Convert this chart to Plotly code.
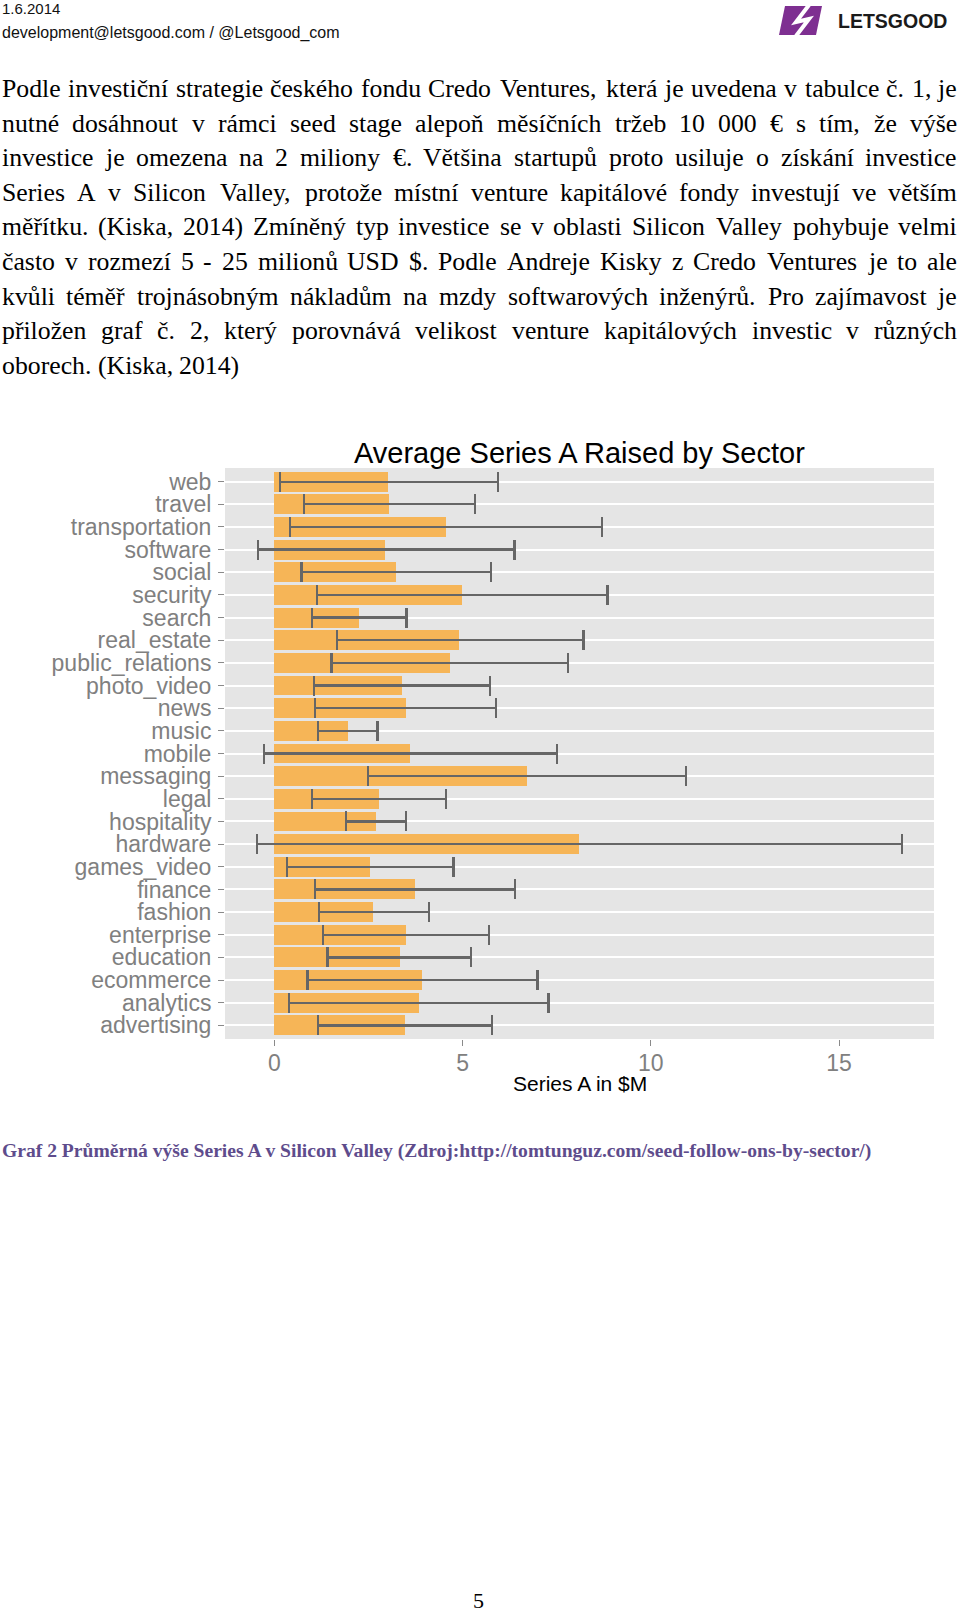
import unicodedata
import plotly.graph_objects as go

# ---------------- data (top to bottom as displayed) ----------------
sectors = ["web", "travel", "transportation", "software", "social", "security",
           "search", "real_estate", "public_relations", "photo_video", "news",
           "music", "mobile", "messaging", "legal", "hospitality", "hardware",
           "games_video", "finance", "fashion", "enterprise", "education",
           "ecommerce", "analytics", "advertising"]
mean_raise = [3.02, 3.04, 4.56, 2.95, 3.23, 4.99, 2.24, 4.91, 4.66, 3.38, 3.49,
              1.95, 3.61, 6.70, 2.77, 2.70, 8.10, 2.54, 3.73, 2.63, 3.50, 3.33,
              3.93, 3.83, 3.48]
err_low = [0.16, 0.78, 0.41, -0.44, 0.72, 1.13, 0.99, 1.66, 1.52, 1.05, 1.07,
           1.16, -0.27, 2.48, 1.00, 1.91, -0.46, 0.34, 1.07, 1.18, 1.29, 1.41,
           0.88, 0.39, 1.16]
err_high = [5.93, 5.32, 8.71, 6.38, 5.76, 8.85, 3.51, 8.21, 7.80, 5.72, 5.89,
            2.74, 7.51, 10.93, 4.55, 3.50, 16.68, 4.76, 6.40, 4.11, 5.70, 5.23,
            6.99, 7.28, 5.78]
x_ticks = [0, 5, 10, 15]

chart_title = "Average Series A Raised by Sector"
x_title = "Series A in $M"

header_date = "1.6.2014"
header_contact = "development@letsgood.com / @Letsgood_com"
logo_text = "LETSGOOD"

body_lines = [
    "Podle investiční strategie českého fondu Credo Ventures, která je uvedena v tabulce č. 1, je",
    "nutné dosáhnout v rámci seed stage alepoň měsíčních tržeb 10 000 € s tím, že výše",
    "investice je omezena na 2 miliony €. Většina startupů proto usiluje o získání investice",
    "Series A v Silicon Valley, protože místní venture kapitálové fondy investují ve větším",
    "měřítku. (Kiska, 2014) Zmíněný typ investice se v oblasti Silicon Valley pohybuje velmi",
    "často v rozmezí 5 - 25 milionů USD $. Podle Andreje Kisky z Credo Ventures je to ale",
    "kvůli téměř trojnásobným nákladům na mzdy softwarových inženýrů. Pro zajímavost je",
    "přiložen graf č. 2, který porovnává velikost venture kapitálových investic v různých",
    "oborech. (Kiska, 2014)",
]
caption = "Graf 2 Průměrná výše Series A v Silicon Valley (Zdroj:http://tomtunguz.com/seed-follow-ons-by-sector/)"
page_number = "5"

# ---------------- layout geometry ----------------
W, H = 960, 1614
PL, PR, PT, PB = 225, 934, 468, 1039


def fx(px):
    return (px - PL) / (PR - PL)


def fy(py):
    return (PB - py) / (PB - PT)


# Times-Roman advance widths (per 1000 em) for justification
TW = dict(a=444, b=500, c=444, d=500, e=444, f=333, g=500, h=500, i=278, j=278,
          k=500, l=278, m=778, n=500, o=500, p=500, q=500, r=333, s=389, t=278,
          u=500, v=500, w=722, x=500, y=500, z=444,
          A=722, B=667, C=667, D=722, E=611, F=556, G=722, H=722, I=333, J=389,
          K=722, L=611, M=889, N=722, O=722, P=556, Q=722, R=667, S=556, T=611,
          U=722, V=722, W=944, X=722, Y=722, Z=611)
TW.update({str(d): 500 for d in range(10)})
TW.update({" ": 250, ".": 250, ",": 250, "(": 333, ")": 333, "-": 333,
           "€": 500, "$": 500, ":": 278, "/": 278, "_": 500})


def units(s):
    tot = 0
    for ch in s:
        if ch in TW:
            tot += TW[ch]
        else:
            base = unicodedata.normalize("NFD", ch)[0]
            tot += TW.get(base, 500)
    return tot


annotations = []
SERIF = "Liberation Serif, Times New Roman, serif"
SANS = "Liberation Sans, Arial, sans-serif"


def add_text(text, px, py, size, color="black", family=SANS, xanchor="center",
             bold=False):
    annotations.append(dict(
        text=("<b>%s</b>" % text) if bold else text,
        x=fx(px), y=fy(py), xref="paper", yref="paper",
        xanchor=xanchor, yanchor="middle", showarrow=False,
        borderpad=0, borderwidth=0,
        font=dict(family=family, size=size, color=color)))


# header
add_text(header_date, 2, 9, 15, "#111111", SANS, "left")
add_text(header_contact, 2, 33, 16, "#111111", SANS, "left")
add_text(logo_text, 947, 21, 19.5, "#1a1a1a", SANS, "right", bold=True)

# body text (justified: first word left-anchored, last word right-anchored)
L_EDGE, R_EDGE = 2, 957
body_size = 0.985 * (R_EDGE - L_EDGE) * 1000.0 / units(body_lines[0])
for i, line in enumerate(body_lines):
    yy = 88.5 + 34.6 * i
    words = line.split(" ")
    ww = [units(w) * body_size / 1000.0 for w in words]
    last_line = i == len(body_lines) - 1
    if not last_line:
        gap = (R_EDGE - L_EDGE - sum(ww)) / (len(words) - 1)
    else:
        gap = 250 * body_size / 1000.0
    xx = L_EDGE
    n = len(words)
    for k, (w, wdt) in enumerate(zip(words, ww)):
        if k == 0:
            add_text(w, xx, yy, body_size, "black", SERIF, "left")
        elif k == n - 1 and not last_line:
            add_text(w, R_EDGE, yy, body_size, "black", SERIF, "right")
        else:
            add_text(w, xx + wdt / 2.0, yy, body_size, "black", SERIF, "center")
        xx += wdt + gap

# chart texts
add_text(chart_title, 579.5, 453, 29, "black", SANS, "center")
add_text(x_title, 579.5, 1083, 21, "black", SANS, "center")

# caption and page number
add_text(caption, 2, 1151, 19.6, "#5E4C8C", SERIF, "left", bold=True)
add_text(page_number, 478, 1600, 22, "black", SERIF, "center")

# ---------------- figure ----------------
err_plus = [h - m for h, m in zip(err_high, mean_raise)]
err_minus = [m - l for m, l in zip(mean_raise, err_low)]

fig = go.Figure(go.Bar(
    y=sectors, x=mean_raise, orientation="h", width=0.88,
    marker=dict(color="#F6B557", line=dict(width=0)),
    error_x=dict(type="data", array=err_plus, arrayminus=err_minus,
                 symmetric=False, color="#666666", thickness=2.2, width=10),
    hoverinfo="skip",
))


def pth(points):
    return "M " + " L ".join("%.5f,%.5f" % (fx(a), fy(b)) for a, b in points) + " Z"


shapes = [
    dict(type="path", xref="paper", yref="paper",
         path=pth([(785, 6), (822, 6), (816, 35), (779, 35)]),
         fillcolor="#7E2F91", line=dict(width=0), layer="above"),
    dict(type="path", xref="paper", yref="paper",
         path="M %.5f,%.5f L %.5f,%.5f L %.5f,%.5f L %.5f,%.5f" % (
             fx(809), fy(5), fx(796), fy(22), fx(809), fy(19), fx(796), fy(36)),
         line=dict(color="white", width=4), layer="above"),
]

fig.update_layout(
    width=W, height=H,
    margin=dict(l=PL, r=W - PR, t=PT, b=H - PB, pad=0),
    paper_bgcolor="white", plot_bgcolor="#E5E5E5",
    showlegend=False,
    bargap=0,
    annotations=annotations,
    shapes=shapes,
    xaxis=dict(range=[-1.31, 17.52], tickvals=x_ticks, ticktext=[str(t) for t in x_ticks],
               showgrid=False, zeroline=False, showline=False,
               ticks="outside", ticklen=6, tickwidth=1.2, tickcolor="#8a8a8a",
               tickfont=dict(family=SANS, size=23, color="#808080"),
               ticklabelstandoff=-3,
               automargin=False, fixedrange=True),
    yaxis=dict(categoryorder="array", categoryarray=list(reversed(sectors)),
               tickmode="array", tickvals=sectors, ticktext=sectors,
               range=[-0.6, len(sectors) - 0.4],
               showgrid=True, gridcolor="white", gridwidth=2.2,
               zeroline=False, showline=False,
               ticks="outside", ticklen=6, tickwidth=1.2, tickcolor="#8a8a8a",
               tickfont=dict(family=SANS, size=23, color="#808080"),
               ticklabelstandoff=2,
               automargin=False, fixedrange=True),
)

fig.write_html(
    "out.html",
    config={"displayModeBar": False},
    post_script="document.body.style.margin='0';document.body.style.overflow='hidden';",
)
